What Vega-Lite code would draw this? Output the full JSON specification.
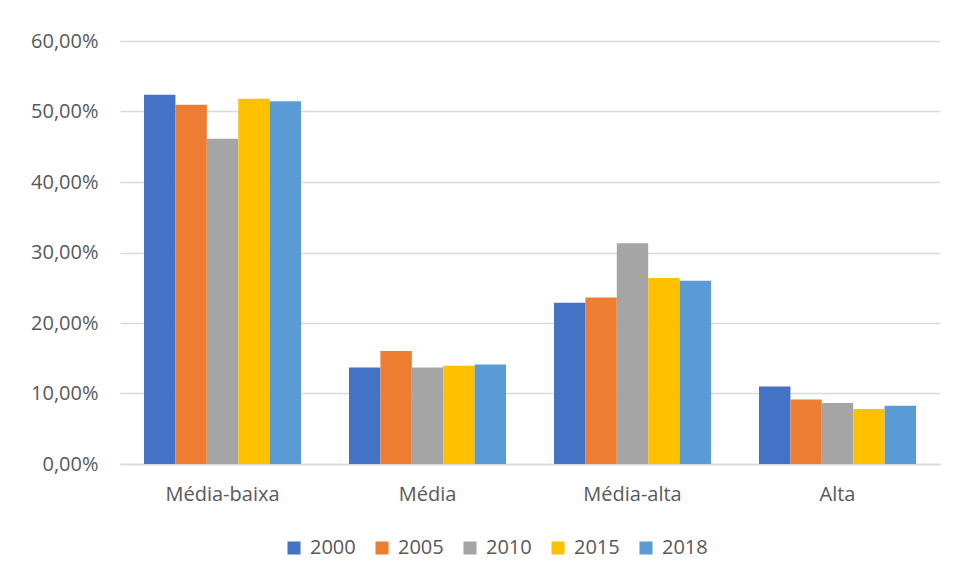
{
  "$schema": "https://vega.github.io/schema/vega-lite/v6.json",
  "width": 820,
  "height": 423,
  "autosize": {"type": "none"},
  "padding": {"left": 120, "top": 41, "right": 17, "bottom": 117},
  "background": "white",
  "config": {
    "locale": {"number": {"decimal": ",", "thousands": ".", "grouping": [3], "currency": ["R$", ""]}},
    "view": {"stroke": null},
    "font": "Open Sans",
    "axis": {"labelFontSize": 20, "labelColor": "#595959", "labelOverlap": false, "labelFont": "Open Sans"},
    "legend": {"labelFontSize": 20, "labelColor": "#595959", "labelFont": "Open Sans"}
  },
  "data": {
    "values": [
      {"cat": "Média-baixa", "ano": "2000", "v": 0.5236},
      {"cat": "Média-baixa", "ano": "2005", "v": 0.5094},
      {"cat": "Média-baixa", "ano": "2010", "v": 0.4613},
      {"cat": "Média-baixa", "ano": "2015", "v": 0.518},
      {"cat": "Média-baixa", "ano": "2018", "v": 0.5146},
      {"cat": "Média", "ano": "2000", "v": 0.1368},
      {"cat": "Média", "ano": "2005", "v": 0.1604},
      {"cat": "Média", "ano": "2010", "v": 0.1368},
      {"cat": "Média", "ano": "2015", "v": 0.1392},
      {"cat": "Média", "ano": "2018", "v": 0.141},
      {"cat": "Média-alta", "ano": "2000", "v": 0.2288},
      {"cat": "Média-alta", "ano": "2005", "v": 0.2363},
      {"cat": "Média-alta", "ano": "2010", "v": 0.3132},
      {"cat": "Média-alta", "ano": "2015", "v": 0.2637},
      {"cat": "Média-alta", "ano": "2018", "v": 0.2599},
      {"cat": "Alta", "ano": "2000", "v": 0.11},
      {"cat": "Alta", "ano": "2005", "v": 0.0914},
      {"cat": "Alta", "ano": "2010", "v": 0.0866},
      {"cat": "Alta", "ano": "2015", "v": 0.078},
      {"cat": "Alta", "ano": "2018", "v": 0.0828}
    ]
  },
  "mark": {"type": "bar"},
  "encoding": {
    "x": {
      "field": "cat", "type": "nominal",
      "sort": ["Média-baixa", "Média", "Média-alta", "Alta"],
      "scale": {"paddingInner": 0.234, "paddingOuter": 0.117},
      "axis": {
        "title": null, "labelAngle": 0, "labelFontSize": 20, "labelColor": "#595959",
        "labelPadding": 20, "ticks": false, "domainColor": "#D9D9D9", "domainWidth": 1.5
      }
    },
    "xOffset": {"field": "ano", "type": "nominal", "scale": {"paddingInner": 0, "paddingOuter": 0}},
    "y": {
      "field": "v", "type": "quantitative",
      "scale": {"domain": [0, 0.6], "nice": false},
      "axis": {
        "title": null, "format": ".2%", "values": [0, 0.1, 0.2, 0.3, 0.4, 0.5, 0.6],
        "labelFontSize": 20, "labelColor": "#595959", "labelPadding": 22, "labelOverlap": false,
        "ticks": false, "domain": false, "gridColor": "#D9D9D9", "gridWidth": 1.5
      }
    },
    "color": {
      "field": "ano", "type": "nominal",
      "scale": {"domain": ["2000", "2005", "2010", "2015", "2018"], "range": ["#4472C4", "#ED7D31", "#A5A5A5", "#FFC000", "#5B9BD5"]},
      "legend": {
        "title": null, "orient": "none", "direction": "horizontal",
        "legendX": 164, "legendY": 497,
        "symbolType": "square", "symbolSize": 170, "symbolStrokeWidth": 0,
        "labelFontSize": 20, "labelColor": "#595959", "labelOffset": 6, "columnPadding": 16
      }
    }
  }
}
